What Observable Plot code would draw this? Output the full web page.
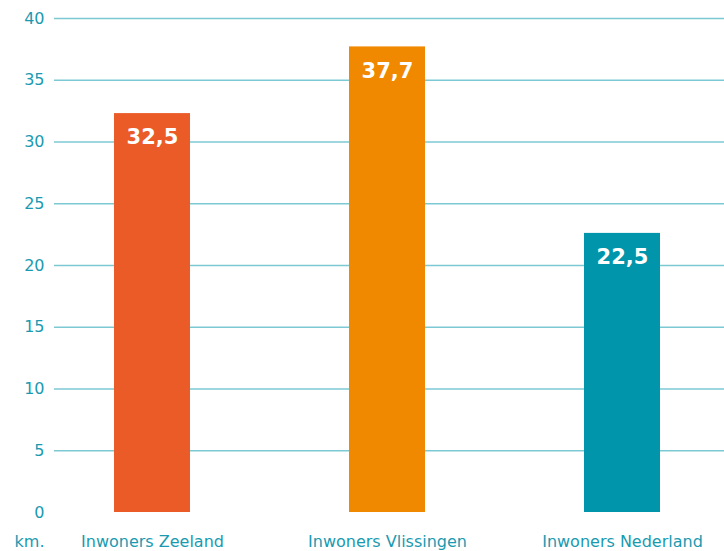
<!DOCTYPE html>
<html>
<head>
<meta charset="utf-8">
<script src="https://cdn.jsdelivr.net/npm/d3@7"></script>
<script src="https://cdn.jsdelivr.net/npm/@observablehq/plot@0.6"></script>
<style>
  html, body { margin: 0; padding: 0; background: #fff; }
  #chart svg { display: block; }
</style>
</head>
<body>
<div id="chart"></div>
<script>
const categories = ["Inwoners Zeeland", "Inwoners Vlissingen", "Inwoners Nederland"];
const values = [32.3, 37.7, 22.6];
const labels = ["32,5", "37,7", "22,5"];
const colors = ["#EA5B27", "#F08800", "#0095AA"];
const yTicks = [0, 5, 10, 15, 20, 25, 30, 35, 40];

const data = categories.map((c, i) => ({category: c, value: values[i], label: labels[i], color: colors[i]}));

const chart = Plot.plot({
  width: 724,
  height: 551,
  marginLeft: 54,
  marginRight: 0,
  marginTop: 18,
  marginBottom: 39,
  style: {fontFamily: "'DejaVu Sans', Verdana, sans-serif", background: "#fff"},
  x: {domain: categories, range: [113, 660], paddingInner: 0.677, paddingOuter: 0, label: null},
  y: {domain: [0, 40], label: null},
  marks: [
    Plot.ruleY(yTicks.filter(d => d > 0), {stroke: "#7CC9D3", strokeWidth: 1.3}),
    Plot.barY(data, {x: "category", y: "value", fill: "color"}),
    Plot.ruleY([0], {stroke: "#1A9EB2", strokeWidth: 1.3, x1: 51, x2: 724}),
    Plot.text(data, {x: "category", y: "value", text: "label", fill: "#fff", fontWeight: "bold", fontSize: 21, dy: 24}),
    Plot.axisY({ticks: yTicks, tickSize: 0, tickPadding: 10, fontSize: 16, color: "#1A9AB0", label: null}),
    Plot.axisX({tickSize: 0, tickPadding: 23, fontSize: 16, color: "#1A9AB0", label: null}),
    Plot.text(["km."], {frameAnchor: "bottom-left", dx: -10, dy: 34, textAnchor: "end", fontSize: 16, fill: "#1A9AB0"})
  ]
});
document.getElementById("chart").appendChild(chart);
</script>
</body>
</html>
